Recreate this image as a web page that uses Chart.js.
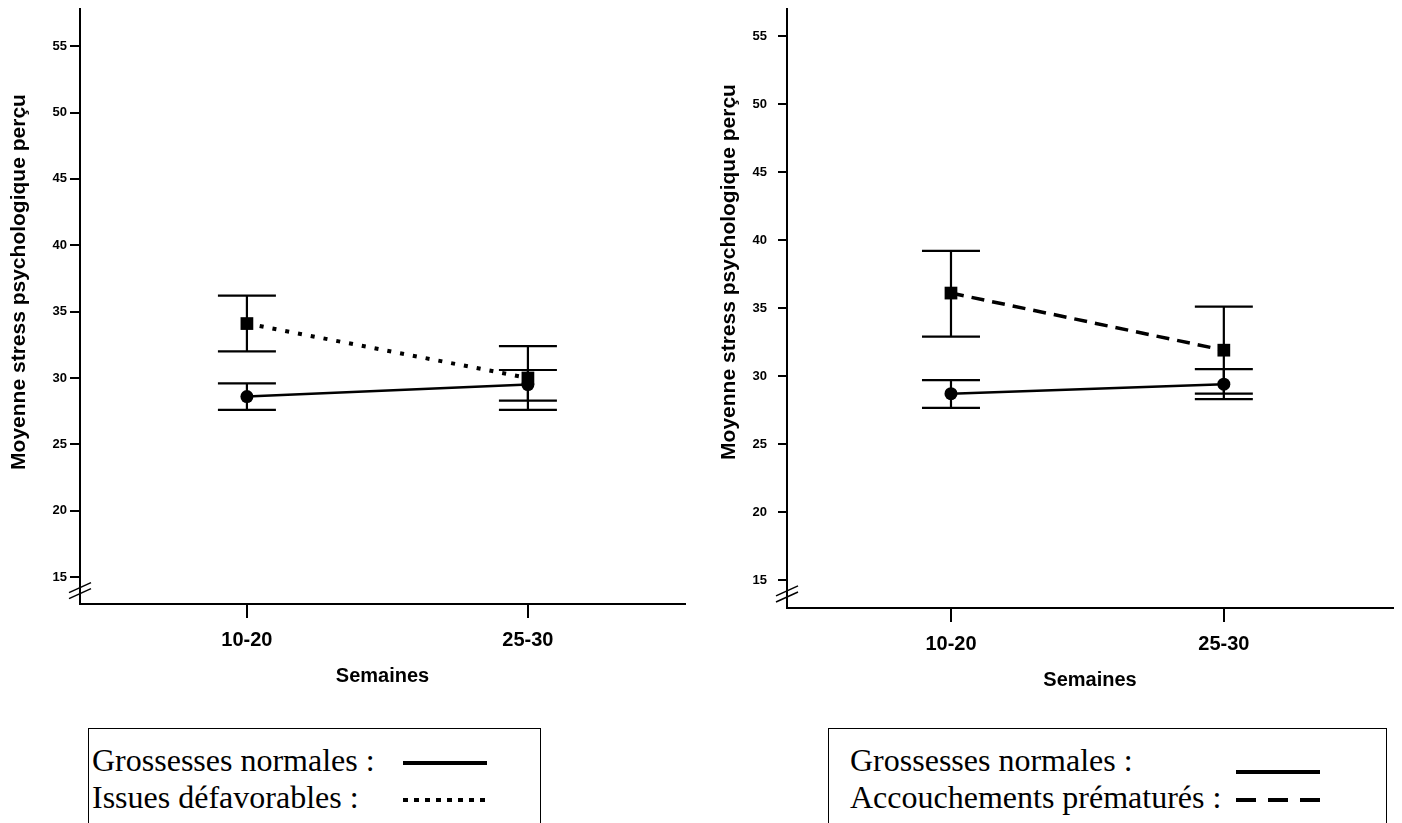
<!DOCTYPE html>
<html>
<head>
<meta charset="utf-8">
<script src="https://cdn.jsdelivr.net/npm/chart.js@4.4.0/dist/chart.umd.min.js"></script>
<style>
body { margin: 0; background: #fff; width: 1402px; height: 823px; overflow: hidden; position: relative; }
#left { position: absolute; left: 0; top: 0; }
#right { position: absolute; left: 700px; top: 0; }
.box { position: absolute; top: 728px; height: 140px; border: 1.5px solid #000; box-sizing: border-box; }
.txt { position: absolute; font-family: "Liberation Serif", "Times New Roman", serif; font-size: 32px; line-height: 32px; white-space: nowrap; color: #000; }
.solid { position: absolute; height: 4px; background: #000; }
.dotted { position: absolute; height: 4px; background: repeating-linear-gradient(to right, #000 0 5px, transparent 5px 11px); }
.dashed { position: absolute; height: 4px; background: repeating-linear-gradient(to right, #000 0 20px, transparent 20px 32px); }
</style>
</head>
<body>
<canvas id="left" width="700" height="700"></canvas>
<canvas id="right" width="702" height="700"></canvas>

<div class="box" style="left:88px;width:453px"></div>
<div class="txt" style="left:92px;top:744px">Grossesses normales :</div>
<div class="txt" style="left:92px;top:781px">Issues défavorables :</div>
<div class="solid" style="left:403px;top:761px;width:84px"></div>
<div class="dotted" style="left:403px;top:798px;width:84px"></div>

<div class="box" style="left:828px;width:559px"></div>
<div class="txt" style="left:850px;top:744px">Grossesses normales :</div>
<div class="txt" style="left:850px;top:781px">Accouchements prématurés :</div>
<div class="solid" style="left:1236px;top:770px;width:84px"></div>
<div class="dashed" style="left:1236px;top:798px;width:84px"></div>

<script>
const weeks = ['10-20', '25-30'];
const xPos = [1, 2];
const yTicks = [15, 20, 25, 30, 35, 40, 45, 50, 55];
const yTitle = 'Moyenne stress psychologique perçu';
const xTitle = 'Semaines';

// left panel: normal vs unfavourable outcomes
const normalA = [28.6, 29.5];
const normalALow = [27.6, 28.3];
const normalAHigh = [29.6, 30.6];
const defav = [34.1, 30.0];
const defavLow = [32.0, 27.6];
const defavHigh = [36.2, 32.4];

// right panel: normal vs preterm births
const normalB = [28.7, 29.4];
const normalBLow = [27.65, 28.3];
const normalBHigh = [29.7, 30.5];
const prema = [36.1, 31.9];
const premaLow = [32.9, 28.7];
const premaHigh = [39.2, 35.1];

const fontFamily = 'Liberation Sans, Arial, sans-serif';
const axisFont = { family: fontFamily, weight: 'bold' };

function toPoints(vals, lo, hi) {
    return vals.map((v, i) => ({ x: xPos[i], y: v, lo: lo[i], hi: hi[i] }));
}

const errorBars = {
    id: 'errorBars',
    beforeDatasetsDraw(chart) {
        const { ctx, scales: { x, y } } = chart;
        ctx.save();
        ctx.strokeStyle = '#000';
        ctx.lineWidth = 2.2;
        chart.data.datasets.forEach(ds => {
            ds.data.forEach(p => {
                const px = x.getPixelForValue(p.x);
                const yl = y.getPixelForValue(p.lo);
                const yh = y.getPixelForValue(p.hi);
                ctx.beginPath();
                ctx.moveTo(px, yl); ctx.lineTo(px, yh);
                ctx.moveTo(px - 29, yl); ctx.lineTo(px + 29, yl);
                ctx.moveTo(px - 29, yh); ctx.lineTo(px + 29, yh);
                ctx.stroke();
            });
        });
        ctx.restore();
    }
};

// "//" break on the y axis + rotated y title (placed a bit above centre like the original)
const axisExtras = {
    id: 'axisExtras',
    afterDraw(chart, args, opts) {
        const { ctx, chartArea, scales: { y } } = chart;
        ctx.save();
        ctx.strokeStyle = '#000';
        ctx.lineWidth = 1.5;
        [14.2, 13.75].forEach(v => {
            const py = y.getPixelForValue(v);
            ctx.beginPath();
            ctx.moveTo(chartArea.left - 11, py + 5);
            ctx.lineTo(chartArea.left + 11, py - 5);
            ctx.stroke();
        });
        ctx.translate(opts.titleX, opts.titleY);
        ctx.rotate(-Math.PI / 2);
        ctx.fillStyle = '#000';
        ctx.font = 'bold 21px ' + fontFamily;
        ctx.textAlign = 'center';
        ctx.textBaseline = 'middle';
        ctx.fillText(yTitle, 0, 0);
        ctx.restore();
    }
};

function buildChart(id, p) {
    return new Chart(document.getElementById(id), {
        type: 'line',
        data: {
            datasets: [{
                data: toPoints(p.normal, p.normalLow, p.normalHigh),
                borderColor: '#000',
                borderWidth: 2.5,
                pointStyle: 'circle',
                pointRadius: 6.5,
                pointBackgroundColor: '#000',
                pointBorderWidth: 0,
                fill: false
            }, {
                data: toPoints(p.other, p.otherLow, p.otherHigh),
                borderColor: '#000',
                borderWidth: p.otherWidth,
                borderDash: p.dash,
                pointStyle: 'rect',
                pointRadius: 9,
                pointBackgroundColor: '#000',
                pointBorderWidth: 0,
                fill: false
            }]
        },
        options: {
            responsive: false,
            animation: false,
            layout: { padding: { top: 8, right: p.padRight, left: 0, bottom: 0 } },
            plugins: {
                legend: { display: false },
                tooltip: { enabled: false },
                axisExtras: { titleX: p.titleX, titleY: p.titleY }
            },
            scales: {
                x: {
                    type: 'linear',
                    min: p.xMin,
                    max: p.xMax,
                    afterBuildTicks: s => { s.ticks = xPos.map(v => ({ value: v })); },
                    afterFit: s => { s.height = p.xH; s.paddingLeft = 0; s.paddingRight = 0; },
                    ticks: {
                        callback: v => weeks[xPos.indexOf(v)],
                        color: '#000',
                        font: { ...axisFont, size: 20 },
                        padding: 10,
                        maxRotation: 0
                    },
                    grid: { drawOnChartArea: false, drawTicks: true, tickLength: 14, color: '#000', lineWidth: 2 },
                    border: { display: true, color: '#000', width: 2 },
                    title: { display: true, text: xTitle, color: '#000', font: { ...axisFont, size: 20 }, padding: { top: 0, bottom: p.xTitlePad } }
                },
                y: {
                    min: p.yMin,
                    max: p.yMax,
                    afterBuildTicks: s => { s.ticks = yTicks.map(v => ({ value: v })); },
                    afterFit: s => { s.width = p.yW; s.paddingTop = 0; s.paddingBottom = 0; },
                    ticks: { color: '#000', font: { ...axisFont, size: 13 }, padding: p.yTickPad },
                    grid: { drawOnChartArea: false, drawTicks: true, tickLength: p.yTickLen, color: '#000', lineWidth: 2 },
                    border: { display: true, color: '#000', width: 2 }
                }
            }
        },
        plugins: [errorBars, axisExtras]
    });
}

buildChart('left', {
    normal: normalA, normalLow: normalALow, normalHigh: normalAHigh,
    other: defav, otherLow: defavLow, otherHigh: defavHigh,
    dash: [4, 9], otherWidth: 4,
    xMin: 0.406, xMax: 2.559, yMin: 12.97, yMax: 57.8,
    padRight: 15, xH: 96, yW: 80, yTickPad: 3, yTickLen: 10,
    xTitlePad: 12, titleX: 19, titleY: 282
});

buildChart('right', {
    normal: normalB, normalLow: normalBLow, normalHigh: normalBHigh,
    other: prema, otherLow: premaLow, otherHigh: premaHigh,
    dash: [13, 8], otherWidth: 3.5,
    xMin: 0.399, xMax: 2.62, yMin: 12.94, yMax: 56.99,
    padRight: 2, xH: 92, yW: 87, yTickPad: 11, yTickLen: 9,
    xTitlePad: 8, titleX: 29, titleY: 272
});
</script>
</body>
</html>
